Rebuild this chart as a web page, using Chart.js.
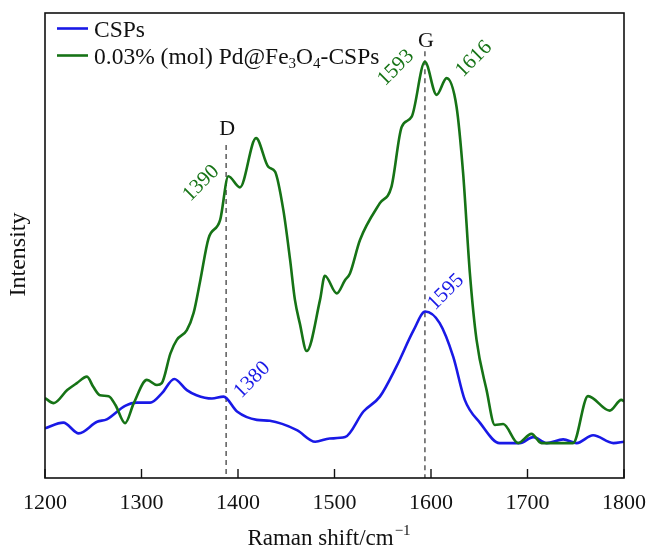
<!DOCTYPE html>
<html><head><meta charset="utf-8">
<script src="https://cdn.jsdelivr.net/npm/chart.js@4.4.1/dist/chart.umd.min.js"></script>
<style>html,body{margin:0;padding:0;background:#fff}#wrap{width:648px;height:545px}</style>
</head><body><div id="wrap"><canvas id="c" width="648" height="545"></canvas></div>
<script>
// ---- data ----
const cspsX = [1200,1219,1235,1254,1264,1283,1295,1309,1321,1334,1347,1357,1373,1385,1399,1419.5,1433,1461,1480,1495,1511,1530,1547,1564,1582,1594,1609,1623,1635,1651,1671,1692,1706,1720,1737,1751,1768,1789,1800];
const cspsY = [10.7,11.9,9.6,12.1,12.6,15.5,16.2,16.2,18.2,21.3,18.9,17.8,17.1,17.5,14.3,12.5,12.3,10.3,7.8,8.5,8.8,14.3,17.5,23.9,31.8,35.8,33.3,26.1,16.8,11.8,7.5,7.5,8.8,7.5,8.3,7.5,9.2,7.5,7.8];
const pdX = [1200,1209,1223,1233,1243.5,1250,1257,1266,1273,1283,1292,1305.6,1316,1321,1330,1336.6,1347,1354,1361,1369.4,1381.5,1390,1402,1418.7,1431.5,1438.4,1447,1454,1459,1464,1471.2,1485,1490,1502.3,1511,1516,1526.4,1547,1559,1569.6,1580,1593.7,1605.8,1616.2,1626.5,1633.3,1640.3,1647.2,1657.6,1666.2,1674.8,1690.3,1704.1,1714.5,1747.2,1762.7,1785.2,1797.3,1800];
const pdY = [17.2,16.1,18.9,20.4,21.8,19.6,17.8,17.6,15.7,11.8,16.1,21.1,20.0,20.4,26.8,29.7,31.8,35.5,42.6,51.5,55.5,64.9,62.5,73.1,66.9,65.9,57.6,46.9,38.3,33.3,27.3,38.3,43.5,39.7,42.6,44.0,51.2,59.1,62.6,75.5,77.7,89.5,82.4,86.0,79.8,65.5,44.0,29.7,18.9,11.4,11.6,7.5,9.5,7.5,7.5,17.6,14.5,16.8,16.5];
const xTickValues = [1200,1300,1400,1500,1600,1700,1800];
const seriesNames = ['CSPs', '0.03% (mol) Pd@Fe3O4-CSPs'];
const bandLabels = ['D','G'];
const bandX = [1387.7, 1593.7];
const bandTop = [71.6, 91.8];
const bandLabelY = [73.8, 92.6];
const peakText = ['1390','1593','1616','1380','1595'];
const peakX = [1361.8, 1563.7, 1644.4, 1414.6, 1615.4];
const peakY = [63.4, 88.2, 90.1, 21.1, 40.0];
const peakSeries = [1,1,1,0,0];

const BLUE = 'rgb(25,25,230)';
const GREEN = 'rgb(22,115,22)';
const colors = [BLUE, GREEN];
const FONT = '"Liberation Serif", "Times New Roman", serif';

const toPts = (xs, ys) => xs.map((x, i) => ({x, y: ys[i]}));

const overlay = {
  id: 'overlay',
  beforeDatasetsDraw(chart) {
    const {ctx, chartArea: a, scales: {x, y}} = chart;
    ctx.save();
    ctx.strokeStyle = 'rgb(90,90,90)';
    ctx.lineWidth = 1.5;
    ctx.setLineDash([5, 4]);
    bandX.forEach((bx, i) => {
      const px = x.getPixelForValue(bx);
      ctx.beginPath();
      ctx.moveTo(px, y.getPixelForValue(bandTop[i]));
      ctx.lineTo(px, a.bottom);
      ctx.stroke();
    });
    ctx.restore();
  },
  afterDraw(chart) {
    const {ctx, chartArea: a, scales: {x, y}} = chart;
    ctx.save();
    // frame
    ctx.strokeStyle = '#111';
    ctx.lineWidth = 1.6;
    ctx.setLineDash([]);
    ctx.strokeRect(a.left, a.top, a.right - a.left, a.bottom - a.top);
    // inward ticks on bottom axis
    ctx.lineWidth = 1.4;
    xTickValues.forEach(v => {
      const px = x.getPixelForValue(v);
      ctx.beginPath();
      ctx.moveTo(px, a.bottom);
      ctx.lineTo(px, a.bottom - 9);
      ctx.stroke();
    });
    // band letters
    ctx.fillStyle = '#111';
    ctx.font = '22px ' + FONT;
    ctx.textAlign = 'center';
    ctx.textBaseline = 'alphabetic';
    bandX.forEach((bx, i) => {
      ctx.fillText(bandLabels[i], x.getPixelForValue(bx) + 1, y.getPixelForValue(bandLabelY[i]));
    });
    // rotated peak labels
    ctx.font = '21px ' + FONT;
    ctx.textBaseline = 'middle';
    peakText.forEach((t, i) => {
      ctx.save();
      ctx.translate(x.getPixelForValue(peakX[i]), y.getPixelForValue(peakY[i]));
      ctx.rotate(-Math.PI / 4);
      ctx.fillStyle = colors[peakSeries[i]];
      ctx.fillText(t, 0, 0);
      ctx.restore();
    });
    // x axis title with superscript
    ctx.fillStyle = '#111';
    ctx.textAlign = 'left';
    ctx.textBaseline = 'alphabetic';
    const main = 'Raman shift/cm';
    const sup = '\u22121';
    ctx.font = '23px ' + FONT;
    const w1 = ctx.measureText(main).width;
    ctx.font = '15px ' + FONT;
    const w2 = ctx.measureText(sup).width;
    const cx = (a.left + a.right) / 2 - 6;
    const tx = cx - (w1 + w2) / 2;
    const ty = a.bottom + 67;
    ctx.font = '23px ' + FONT;
    ctx.fillText(main, tx, ty);
    ctx.font = '15px ' + FONT;
    ctx.fillText(sup, tx + w1 + 1, ty - 10);
    // y axis title
    ctx.save();
    ctx.translate(a.left - 26, (a.top + a.bottom) / 2 + 9);
    ctx.rotate(-Math.PI / 2);
    ctx.textAlign = 'center';
    ctx.textBaseline = 'middle';
    ctx.font = '24px ' + FONT;
    ctx.fillText('Intensity', 0, 0);
    ctx.restore();
    // legend
    const lx = a.left + 12, lw = 31;
    const rows = [a.top + 15.5, a.top + 42.5];
    ctx.lineWidth = 2.6;
    rows.forEach((ry, i) => {
      ctx.strokeStyle = colors[i];
      ctx.beginPath();
      ctx.moveTo(lx, ry);
      ctx.lineTo(lx + lw, ry);
      ctx.stroke();
    });
    ctx.fillStyle = '#111';
    ctx.textAlign = 'left';
    ctx.textBaseline = 'alphabetic';
    const txL = lx + lw + 6;
    ctx.font = '23.5px ' + FONT;
    ctx.fillText(seriesNames[0], txL, rows[0] + 8);
    // second label with subscripts
    const parts = [['0.03% (mol) Pd@Fe', 0], ['3', 1], ['O', 0], ['4', 1], ['-CSPs', 0]];
    let cur = txL;
    parts.forEach(([s, sub]) => {
      ctx.font = (sub ? '15px ' : '23.5px ') + FONT;
      ctx.fillText(s, cur, rows[1] + 8 + (sub ? 4 : 0));
      cur += ctx.measureText(s).width;
    });
    ctx.restore();
  }
};

Chart.defaults.font.family = FONT;
new Chart(document.getElementById('c'), {
  type: 'line',
  data: {
    datasets: [
      {label: seriesNames[1], data: toPts(pdX, pdY), borderColor: GREEN, borderWidth: 2.6, pointRadius: 0, cubicInterpolationMode: 'monotone', fill: false},
      {label: seriesNames[0], data: toPts(cspsX, cspsY), borderColor: BLUE, borderWidth: 2.6, pointRadius: 0, cubicInterpolationMode: 'monotone', fill: false}
    ]
  },
  options: {
    responsive: false,
    animation: false,
    devicePixelRatio: 1,
    layout: {padding: {left: 45, right: 24, top: 13, bottom: 0}},
    plugins: {legend: {display: false}, tooltip: {enabled: false}},
    scales: {
      x: {
        type: 'linear', min: 1200, max: 1800,
        afterBuildTicks: s => { s.ticks = xTickValues.map(v => ({value: v})); },
        afterFit: s => { s.height = 67; s.paddingLeft = 0; s.paddingRight = 0; },
        grid: {display: false, drawTicks: false},
        border: {display: false},
        ticks: {color: '#111', font: {size: 22, family: FONT}, padding: 12, maxRotation: 0, autoSkip: false, callback: v => String(v)}
      },
      y: {display: false, min: 0, max: 100}
    }
  },
  plugins: [overlay]
});
</script>
</body></html>
